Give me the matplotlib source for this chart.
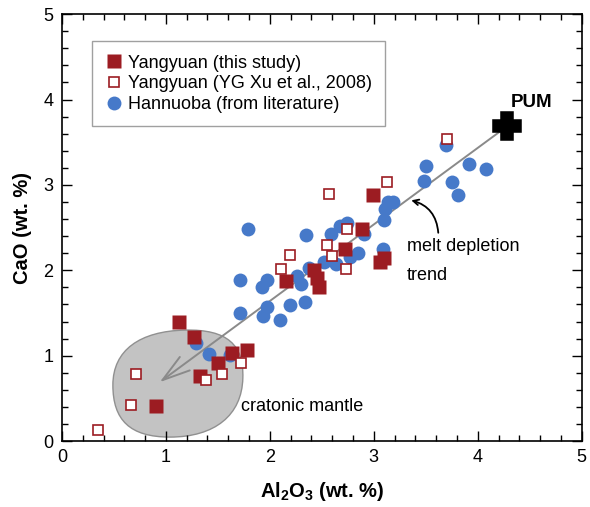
import matplotlib
matplotlib.use("Agg")
import matplotlib.pyplot as plt
from matplotlib.path import Path
from matplotlib.patches import PathPatch
from matplotlib.ticker import MultipleLocator

plt.rcParams["font.family"] = ["Liberation Sans", "DejaVu Sans"]
plt.rcParams["mathtext.fontset"] = "custom"
plt.rcParams["mathtext.rm"] = "Liberation Sans"
plt.rcParams["mathtext.bf"] = "Liberation Sans:bold"

# Yangyuan (this study)
ys_x = [0.90, 1.13, 1.27, 1.33, 1.50, 1.64, 1.78, 2.16, 2.42, 2.45, 2.47, 2.72, 2.89, 2.99, 3.06, 3.10]
ys_y = [0.41, 1.39, 1.22, 0.76, 0.91, 1.03, 1.07, 1.88, 2.00, 1.91, 1.80, 2.25, 2.48, 2.88, 2.10, 2.15]

# Yangyuan (YG Xu et al., 2008)
xu_x = [0.35, 0.66, 0.71, 1.39, 1.54, 1.72, 2.11, 2.19, 2.55, 2.57, 2.60, 2.73, 2.74, 3.13, 3.70]
xu_y = [0.13, 0.42, 0.78, 0.71, 0.78, 0.91, 2.02, 2.18, 2.30, 2.89, 2.17, 2.01, 2.48, 3.04, 3.54]

# Hannuoba (from literature)
hn_x = [1.29, 1.41, 1.62, 1.71, 1.93, 1.97, 1.71, 1.97, 1.92, 1.79, 2.10, 2.19, 2.34, 2.30, 2.26,
        2.38, 2.35, 2.52, 2.59, 2.59, 2.64, 2.67, 2.74, 2.77, 2.85, 2.91, 3.09, 3.10, 3.11, 3.14,
        3.18, 3.50, 3.48, 3.69, 3.92, 4.08, 3.75, 3.81]
hn_y = [1.15, 1.02, 1.01, 1.50, 1.46, 1.57, 1.89, 1.89, 1.80, 2.48, 1.42, 1.59, 1.63, 1.84, 1.93,
        2.03, 2.41, 2.10, 2.12, 2.43, 2.08, 2.52, 2.55, 2.16, 2.20, 2.43, 2.25, 2.59, 2.72, 2.80,
        2.80, 3.22, 3.05, 3.47, 3.24, 3.19, 3.04, 2.88]

pum = (4.285, 3.69)
trend_end = (0.94, 0.69)

# outline of the cratonic mantle field (bezier anchors and controls)
craton_verts = [(1.183, 1.300),
                (1.596, 1.311), (1.750, 1.124), (1.740, 0.738),
                (1.731, 0.304), (1.471, 0.047), (1.038, 0.047),
                (0.654, 0.047), (0.490, 0.246), (0.490, 0.656),
                (0.490, 1.066), (0.750, 1.288), (1.183, 1.300)]

red = "#9c1c22"
blue = "#4679c9"

fig = plt.figure(figsize=(5.9, 5.07), dpi=100)
ax = fig.add_axes([0.105, 0.130, 0.881, 0.842])

codes = [Path.MOVETO] + [Path.CURVE4] * 12
ax.add_patch(PathPatch(Path(craton_verts, codes), facecolor="#c3c3c3",
                       edgecolor="#909090", lw=1.0, zorder=1))

ax.annotate("", xy=trend_end, xytext=pum,
            arrowprops=dict(arrowstyle="->,head_length=1.0,head_width=0.3",
                            mutation_scale=20, color="#8a8a8a", lw=1.4,
                            shrinkA=0, shrinkB=0), zorder=2)

ax.plot(hn_x, hn_y, "o", ms=10, color=blue, mec="none", zorder=3,
        label="Hannuoba (from literature)")
ax.plot(ys_x, ys_y, "s", ms=10, color=red, mec="none", zorder=4,
        label="Yangyuan (this study)")
ax.plot(xu_x, xu_y, "s", ms=6.5, mfc="white", mec=red, mew=1.2, zorder=5,
        label="Yangyuan (YG Xu et al., 2008)")

ax.plot(*pum, "P", ms=17, color="black", mec="black", mew=4, zorder=6)
ax.text(4.52, 3.97, "PUM", fontsize=13.5, fontweight="bold", ha="center", va="center")

ax.annotate("", xy=(3.36, 2.82), xytext=(3.62, 2.44),
            arrowprops=dict(arrowstyle="->", color="black", lw=1.3,
                            connectionstyle="arc3,rad=0.35", shrinkA=0, shrinkB=0))
ax.text(3.32, 2.28, "melt depletion", fontsize=13, va="center")
ax.text(3.32, 1.94, "trend", fontsize=13, va="center")
ax.text(1.72, 0.41, "cratonic mantle", fontsize=13, va="center")

ax.set_xlim(0, 5)
ax.set_ylim(0, 5)
ax.xaxis.set_major_locator(MultipleLocator(1))
ax.yaxis.set_major_locator(MultipleLocator(1))
ax.xaxis.set_minor_locator(MultipleLocator(0.2))
ax.yaxis.set_minor_locator(MultipleLocator(0.2))
ax.tick_params(which="both", direction="in", top=True, right=True, width=1.0)
ax.tick_params(which="major", length=7, labelsize=13, pad=6)
ax.tick_params(which="minor", length=4)
for s in ax.spines.values():
    s.set_linewidth(1.2)

ax.set_xlabel(r"Al$_{\mathbf{2}}$O$_{\mathbf{3}}$ (wt. %)", fontsize=14.5, fontweight="bold", labelpad=10)
ax.set_ylabel("CaO (wt. %)", fontsize=14.5, fontweight="bold", labelpad=8)

h, l = ax.get_legend_handles_labels()
order = [1, 2, 0]
leg = ax.legend([h[i] for i in order], [l[i] for i in order], loc="upper left",
                bbox_to_anchor=(0.057, 0.937), borderaxespad=0, fontsize=13,
                frameon=True, fancybox=False, edgecolor="#888888",
                handletextpad=0.25, handlelength=1.0, labelspacing=0.2,
                borderpad=0.75)
leg.get_frame().set_linewidth(1.0)

fig.savefig("out.png", dpi=100)
